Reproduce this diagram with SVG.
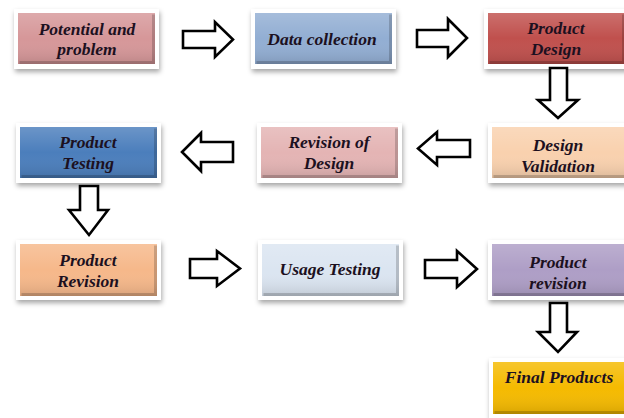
<svg xmlns="http://www.w3.org/2000/svg" width="624" height="418" viewBox="0 0 624 418">
<defs>
<filter id="sh" x="-10%" y="-20%" width="125%" height="150%">
<feDropShadow dx="1" dy="3" stdDeviation="2.5" flood-color="#000" flood-opacity="0.35"/>
</filter>
<linearGradient id="gl" x1="0" y1="0" x2="0" y2="1">
<stop offset="0" stop-color="#fff" stop-opacity="0.18"/>
<stop offset="0.5" stop-color="#fff" stop-opacity="0"/>
<stop offset="1" stop-color="#000" stop-opacity="0.12"/>
</linearGradient>
</defs>
<style>
.fr{fill:#fff;filter:url(#sh)}
.gl{fill:url(#gl)}
.bv{fill:none;stroke:#000;stroke-opacity:0.18;stroke-width:3}
.t{font-family:"Liberation Serif","Times New Roman",serif;font-weight:bold;font-style:italic;font-size:17.5px;fill:#1c1020;text-anchor:middle}
.ar{fill:#fff;stroke:#000;stroke-width:2.6;stroke-linejoin:miter}
</style>
<rect width="624" height="418" fill="#fff"/>

<g id="n1">
<rect class="fr" x="14" y="9" width="145" height="60"/>
<rect x="18" y="13" width="137" height="51" fill="#D69799"/>
<rect class="gl" x="18" y="13" width="137" height="51"/>
<path class="bv" d="M19.5 62.5H153.5V14.5"/>
<text class="t" x="87" y="35">Potential and</text>
<text class="t" x="87" y="55">problem</text>
</g>

<g id="n2">
<rect class="fr" x="251" y="9" width="145" height="60"/>
<rect x="255" y="13" width="137" height="51" fill="#92AED3"/>
<rect class="gl" x="255" y="13" width="137" height="51"/>
<path class="bv" d="M256.5 62.5H390.5V14.5"/>
<text class="t" x="322" y="45">Data collection</text>
</g>

<g id="n3">
<rect class="fr" x="484" y="9" width="145" height="60"/>
<rect x="488" y="13" width="137" height="51" fill="#C0504D"/>
<rect class="gl" x="488" y="13" width="137" height="51"/>
<path class="bv" d="M489.5 62.5H623.5V14.5"/>
<text class="t" x="556" y="34">Product</text>
<text class="t" x="556" y="55">Design</text>
</g>

<g id="n4">
<rect class="fr" x="16" y="123" width="145" height="60"/>
<rect x="20" y="127" width="137" height="51" fill="#4B7EBC"/>
<rect class="gl" x="20" y="127" width="137" height="51"/>
<path class="bv" d="M21.5 176.5H155.5V128.5"/>
<text class="t" x="88" y="148">Product</text>
<text class="t" x="88" y="169">Testing</text>
</g>

<g id="n5">
<rect class="fr" x="257" y="123" width="145" height="60"/>
<rect x="261" y="127" width="137" height="51" fill="#E4B4B4"/>
<rect class="gl" x="261" y="127" width="137" height="51"/>
<path class="bv" d="M262.5 176.5H396.5V128.5"/>
<text class="t" x="329" y="148">Revision of</text>
<text class="t" x="329" y="169">Design</text>
</g>

<g id="n6">
<rect class="fr" x="488" y="123" width="145" height="60"/>
<rect x="492" y="127" width="137" height="51" fill="#F9D1AE"/>
<rect class="gl" x="492" y="127" width="137" height="51"/>
<path class="bv" d="M493.5 176.5H627.5V128.5"/>
<text class="t" x="558" y="151">Design</text>
<text class="t" x="558" y="172">Validation</text>
</g>

<g id="n7">
<rect class="fr" x="16" y="240" width="145" height="60"/>
<rect x="20" y="244" width="137" height="52" fill="#F6B88A"/>
<rect class="gl" x="20" y="244" width="137" height="52"/>
<path class="bv" d="M21.5 294.5H155.5V245.5"/>
<text class="t" x="88" y="266">Product</text>
<text class="t" x="88" y="287">Revision</text>
</g>

<g id="n8">
<rect class="fr" x="258" y="240" width="145" height="60"/>
<rect x="262" y="244" width="137" height="52" fill="#DBE5F1"/>
<rect class="gl" x="262" y="244" width="137" height="52"/>
<path class="bv" d="M263.5 294.5H397.5V245.5"/>
<text class="t" x="330" y="275">Usage Testing</text>
</g>

<g id="n9">
<rect class="fr" x="488" y="240" width="145" height="60"/>
<rect x="492" y="244" width="137" height="52" fill="#AE9EC6"/>
<rect class="gl" x="492" y="244" width="137" height="52"/>
<path class="bv" d="M493.5 294.5H627.5V245.5"/>
<text class="t" x="558" y="268">Product</text>
<text class="t" x="558" y="289">revision</text>
</g>

<g id="n10">
<rect class="fr" x="489" y="358" width="145" height="62"/>
<rect x="493" y="362" width="137" height="52" fill="#F5BA00"/>
<rect class="gl" x="493" y="362" width="137" height="52"/>
<path class="bv" d="M494.5 412.5H628.5V363.5"/>
<text class="t" x="559" y="383">Final Products</text>
</g>

<g id="connectors">
<path class="ar" d="M183 31H215V22L233 39.5L215 57V48H183Z"/>
<path class="ar" d="M417 30H448V19L467 38L448 57V47H417Z"/>
<path class="ar" d="M550 68H567V100H578L558 118L538 100H550Z"/>
<path class="ar" d="M233 142H201V133L182 152L201 171V162H233Z"/>
<path class="ar" d="M470 140H437V132L418 148.5L437 165V157H470Z"/>
<path class="ar" d="M80 186H98V210H108L89 235L69 210H80Z"/>
<path class="ar" d="M190 259H217V251L240 268.5L217 286V278H190Z"/>
<path class="ar" d="M425 260H457V251L477 269L457 287V278H425Z"/>
<path class="ar" d="M550 303H567V332H577L558 352L538 332H550Z"/>
</g>
</svg>
